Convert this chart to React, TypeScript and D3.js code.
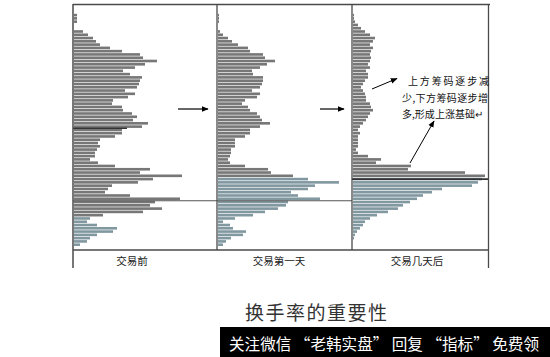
import React from 'react';
import * as d3 from 'd3';

const panelLabels = ['交易前', '交易第一天', '交易几天后'];

// chip distribution per price level (top = highest price), lengths in chart units
const before = [
  0, 3, 3, 3, 0, 0, 9, 14, 19, 22, 26, 36, 48, 66, 69, 83, 71, 61, 49, 56,
  68, 66, 65, 63, 51, 61, 54, 39, 38, 48, 49, 58, 63, 59, 74, 68, 48, 48, 41, 26,
  24, 26, 23, 21, 21, 16, 24, 41, 76, 66, 108, 79, 64, 38, 34, 31, 56, 106, 81, 76,
  88, 69, 29, 16, 13, 23, 43, 39, 23, 16, 13, 6,
];
const firstDay = [
  0, 1, 1, 1, 0, 0, 2, 5, 10, 14, 20, 30, 32, 45, 47, 57, 49, 42, 34, 35,
  45, 45, 44, 42, 34, 42, 39, 27, 24, 30, 32, 39, 42, 44, 52, 42, 32, 32, 27, 17,
  17, 17, 13, 13, 12, 10, 12, 27, 50, 53, 75, 90, 121, 97, 90, 73, 80, 102, 70, 68,
  60, 47, 35, 17, 5, 12, 15, 28, 25, 13, 8, 5,
];
const daysLater = [
  0, 1, 1, 2, 5, 8, 12, 17, 22, 20, 17, 20, 18, 17, 18, 17, 15, 17, 13, 15,
  15, 12, 10, 8, 10, 12, 13, 13, 17, 18, 20, 17, 15, 13, 10, 7, 5, 7, 5, 5,
  5, 5, 3, 5, 15, 28, 23, 58, 55, 112, 132, 129, 125, 119, 89, 79, 70, 64, 57, 50,
  45, 35, 24, 17, 12, 10, 7, 4, 2, 1, 0, 0,
];
const series = [before, firstDay, daysLater];
const blueFrom = [63, 51, 51];
const priceLineLevel = [57.5, 57.5, 50.9];
const costMarkLevel = 35.4;
const costMarkValue = 53;

const title = '换手率的重要性';
const noteLines = ['上方筹码逐步减', '少,下方筹码逐步增', '多,形成上涨基础↵'];
const banner = '关注微信 “老韩实盘” 回复 “指标” 免费领';

export default function App() {
  const W = 550;
  const H = 357;
  const panels = [
    { left: 74, right: 217, labelX: 132 },
    { left: 218, right: 352, labelX: 279 },
    { left: 353, right: 488, labelX: 417 },
  ];
  const n = before.length;
  const y = d3.scaleBand<number>().domain(d3.range(n)).range([10.5, 246]).paddingInner(0.2);
  const step = y.step();
  const yLevel = (v: number) => 10.5 + step * (v + 0.5);
  const x = d3.scaleLinear().domain([0, 140]).range([0, 140]);
  const grey = '#777777';
  const blue = '#8298a0';
  const frame = '#4a4a4a';
  const cjk = '"Noto Sans CJK SC", "Noto Sans", sans-serif';

  return (
    <svg width={W} height={H} style={{ position: 'absolute', left: 0, top: 0, background: '#fff' }}>
      <defs>
        <marker id="ah" viewBox="0 0 10 10" refX="9" refY="5" markerWidth="7" markerHeight="7" orient="auto" markerUnits="userSpaceOnUse">
          <path d="M0,1 L10,5 L0,9 Z" fill="#000" />
        </marker>
      </defs>
      <rect x={0} y={0} width={W} height={H} fill="#fff" />

      {series.map((vals, p) => (
        <g key={p}>
          {vals.map((v, i) =>
            v > 0 ? (
              <rect
                key={i}
                x={panels[p].left}
                y={y(i)}
                width={x(v)}
                height={y.bandwidth()}
                fill={i >= blueFrom[p] ? blue : grey}
              />
            ) : null
          )}
        </g>
      ))}

      {/* price lines */}
      {priceLineLevel.map((lv, p) => (
        <line key={p} x1={panels[p].left - 1} x2={panels[p].right} y1={yLevel(lv)} y2={yLevel(lv)} stroke={p === 2 ? '#333' : '#555'} strokeWidth={p === 2 ? 1.6 : 1.2} />
      ))}
      <line x1={panels[0].left - 1} x2={panels[0].left + x(costMarkValue)} y1={yLevel(costMarkLevel)} y2={yLevel(costMarkLevel)} stroke="#333" strokeWidth={1.4} />

      {/* frame */}
      <line x1={73} x2={490} y1={4.5} y2={4.5} stroke={frame} strokeWidth={1.5} />
      <line x1={73} x2={73} y1={4} y2={268} stroke={frame} strokeWidth={1.5} />
      <line x1={217} x2={217} y1={4} y2={250} stroke={frame} strokeWidth={1.3} />
      <line x1={352} x2={352} y1={4} y2={250} stroke={frame} strokeWidth={1.3} />
      <line x1={488.5} x2={488.5} y1={4} y2={268} stroke={frame} strokeWidth={1.3} />
      <line x1={73} x2={489} y1={250} y2={250} stroke={frame} strokeWidth={1.3} />

      {panels.map((pn, p) => (
        <text key={p} x={pn.labelX} y={265} textAnchor="middle" fontFamily={cjk} fontSize={10.5} fill="#222">
          {panelLabels[p]}
        </text>
      ))}

      {/* arrows between panels */}
      <line x1={178} x2={208} y1={109} y2={109} stroke="#000" strokeWidth={1.2} markerEnd="url(#ah)" />
      <line x1={320} x2={344} y1={109} y2={109} stroke="#000" strokeWidth={1.2} markerEnd="url(#ah)" />

      {/* annotation */}
      <line x1={372} y1={89} x2={397} y2={78.5} stroke="#000" strokeWidth={1} markerEnd="url(#ah)" />
      <line x1={410} y1={163} x2={434} y2={121} stroke="#000" strokeWidth={1} markerEnd="url(#ah)" />
      <text x={408} y={85} fontFamily={cjk} fontSize={10} fill="#111" textLength={81} lengthAdjust="spacing">{noteLines[0]}</text>
      <text x={402} y={101.5} fontFamily={cjk} fontSize={10} fill="#111" textLength={86} lengthAdjust="spacing">{noteLines[1]}</text>
      <text x={402} y={118} fontFamily={cjk} fontSize={10} fill="#111" textLength={81} lengthAdjust="spacing">{noteLines[2]}</text>

      {/* title */}
      <text x={316} y={320} textAnchor="middle" fontFamily={cjk} fontSize={19} fill="#333" textLength={142} lengthAdjust="spacing">{title}</text>

      {/* banner */}
      <rect x={220} y={327} width={330} height={30} fill="#000" />
      <text x={229} y={350} fontFamily={cjk} fontSize={15.5} fill="#fff" textLength={310} lengthAdjust="spacingAndGlyphs">{banner}</text>
    </svg>
  );
}
